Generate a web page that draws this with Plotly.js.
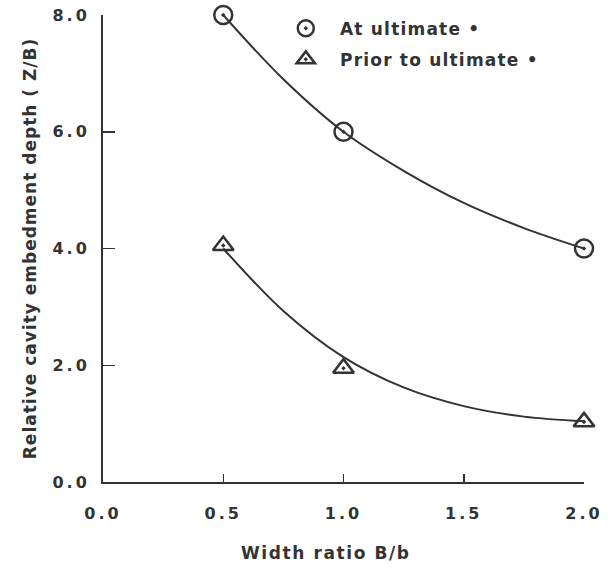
<!DOCTYPE html>
<html>
<head>
<meta charset="utf-8">
<script src="https://cdn.plot.ly/plotly-3.0.1.min.js"></script>
<style>
html,body{margin:0;padding:0;background:#fff;}
#chart{width:611px;height:570px;}
.xtick text, .ytick text{letter-spacing:3px;}
text.ytitle{letter-spacing:1px;}
text.annotation-text{letter-spacing:1.6px;}
text.legendtext{letter-spacing:1.2px;}
</style>
</head>
<body>
<div id="chart"></div>
<script>
// Measured points
const widthRatio = [0.5, 1.0, 2.0];
const atUltimate = [8.0, 6.0, 4.0];
const priorUltimate = [4.05, 1.95, 1.03];

// Fitted curves
const fitX = [0.5, 0.75, 1.0, 1.25, 1.5, 1.75, 2.0];
const fitAtUltimate = [8.0, 6.9, 6.0, 5.33, 4.78, 4.35, 4.0];
const fitPrior = [4.0, 2.93, 2.14, 1.62, 1.3, 1.12, 1.04];

const xTicks = [0.0, 0.5, 1.0, 1.5, 2.0];
const xTickText = ['0.0', '0.5', '1.0', '1.5', '2.0'];
const yTicks = [0, 2, 4, 6, 8];
const yTickText = ['0.0', '2.0', '4.0', '6.0', '8.0'];

const ink = '#333333';
const fontFam = 'DejaVu Sans, sans-serif';

const traces = [
  {x: fitX, y: fitAtUltimate, mode: 'lines', line: {shape: 'spline', color: ink, width: 2}, showlegend: false, hoverinfo: 'skip'},
  {x: fitX, y: fitPrior, mode: 'lines', line: {shape: 'spline', color: ink, width: 2}, showlegend: false, hoverinfo: 'skip'},
  {x: widthRatio, y: atUltimate, mode: 'markers', name: '\u00a0\u00a0At ultimate \u2022', legendgroup: 'a',
   marker: {symbol: 'circle-open-dot', size: 18, color: ink, line: {width: 2.5, color: ink}}, cliponaxis: false},
  {x: widthRatio, y: priorUltimate, mode: 'markers', name: '\u00a0\u00a0Prior to ultimate \u2022', legendgroup: 'b',
   marker: {symbol: 'triangle-up-open-dot', size: 18, color: ink, line: {width: 2.5, color: ink}}, cliponaxis: false}
];

const layout = {
  width: 611, height: 570,
  margin: {l: 103, r: 27, t: 14, b: 88},
  paper_bgcolor: '#fff', plot_bgcolor: '#fff',
  font: {family: fontFam, color: ink, size: 16, weight: 'bold'},
  showlegend: true,
  legend: {x: 0.38, y: 1.007, xanchor: 'left', yanchor: 'top', bgcolor: 'rgba(0,0,0,0)',
           font: {family: fontFam, size: 17, color: ink, weight: 'bold'}, traceorder: 'grouped', tracegroupgap: 6},
  xaxis: {
    range: [0, 2.0], showgrid: false, zeroline: false, showline: true, linecolor: ink, linewidth: 2,
    ticks: 'inside', ticklen: 8, tickwidth: 1.5, tickcolor: ink,
    tickvals: xTicks, ticktext: xTickText, ticklabelstandoff: 16,
    tickfont: {family: fontFam, size: 16, color: ink, weight: 'bold'}
  },
  yaxis: {
    range: [0, 8.0], showgrid: false, zeroline: false, showline: true, linecolor: ink, linewidth: 2,
    ticks: 'inside', ticklen: 12, tickwidth: 1.5, tickcolor: ink,
    tickvals: yTicks, ticktext: yTickText, ticklabelstandoff: 8,
    tickfont: {family: fontFam, size: 16, color: ink, weight: 'bold'},
    title: {text: 'Relative cavity embedment depth ( Z/B)', font: {family: fontFam, size: 17, color: ink, weight: 'bold'}, standoff: 12}
  },
  annotations: [{
    text: 'Width ratio B/b', xref: 'paper', yref: 'paper', x: 0.463, y: -0.152,
    xanchor: 'center', yanchor: 'middle', showarrow: false,
    font: {family: fontFam, size: 17, color: ink, weight: 'bold'}
  }]
};

Plotly.newPlot('chart', traces, layout, {staticPlot: true});
</script>
</body>
</html>
